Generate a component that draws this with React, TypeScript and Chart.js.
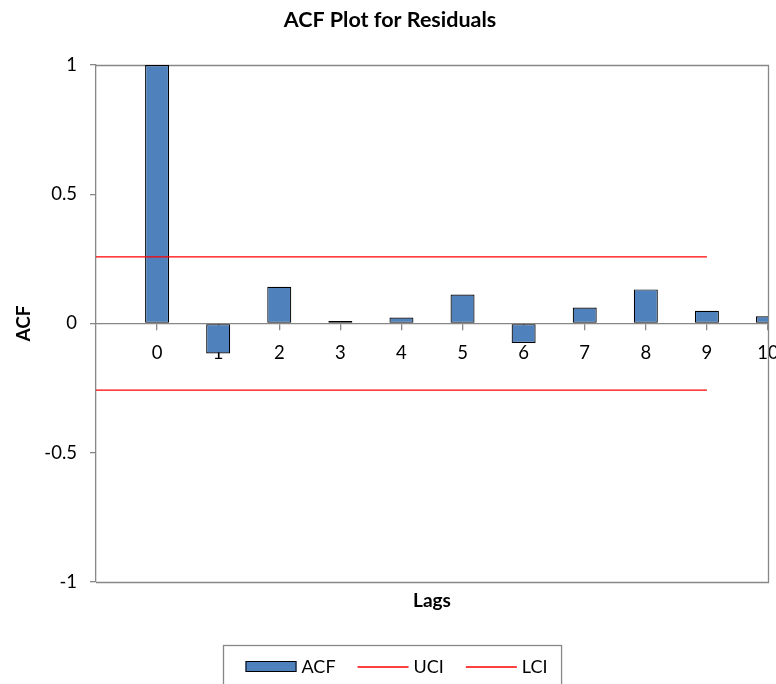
import React, { useEffect, useRef } from "react";
import { Chart, registerables } from "chart.js";

Chart.register(...registerables);

// ---- data ----
const LAGS = [0, 1, 2, 3, 4, 5, 6, 7, 8, 9, 10];
const ACF = [1, -0.116, 0.142, 0.01, 0.023, 0.112, -0.075, 0.062, 0.132, 0.049, 0.028];
const UCI = [0.258, 0.258, 0.258, 0.258, 0.258, 0.258, 0.258, 0.258, 0.258, 0.258, 0.258];
const LCI = [-0.258, -0.258, -0.258, -0.258, -0.258, -0.258, -0.258, -0.258, -0.258, -0.258, -0.258];
const Y_TICKS = [-1, -0.5, 0, 0.5, 1];
const TITLE = "ACF Plot for Residuals";
const X_TITLE = "Lags";
const Y_TITLE = "ACF";
const SERIES_NAMES = ["ACF", "UCI", "LCI"];

const AXIS_GRAY = "#878787";
const FONT = "Lato";

const frameBorder = {
  id: "frameBorder",
  beforeDatasetsDraw(chart: any) {
    const { ctx, chartArea } = chart;
    ctx.save();
    ctx.strokeStyle = AXIS_GRAY;
    ctx.lineWidth = 1.3;
    ctx.beginPath();
    ctx.moveTo(chartArea.left, chartArea.top + 0.5);
    ctx.lineTo(chartArea.right + 0.5, chartArea.top + 0.5);
    ctx.lineTo(chartArea.right + 0.5, chartArea.bottom + 0.5);
    ctx.lineTo(chartArea.left, chartArea.bottom + 0.5);
    ctx.stroke();
    ctx.restore();
  },
};

const boxedLegend = {
  id: "boxedLegend",
  afterDraw(chart: any) {
    const { ctx, chartArea } = chart;
    const datasets = chart.data.datasets;
    ctx.save();
    ctx.font = `18px ${FONT}`;
    const sw = 51;
    const gapText = 5;
    const gapItem = 22;
    const padL = 22;
    const padR = 14;
    const widths = datasets.map((d: any) => ctx.measureText(d.label).width);
    let total = padL + padR + gapItem * (datasets.length - 1);
    widths.forEach((w: number) => (total += sw + gapText + w));
    const left = Math.round(chart.width / 2 + 4 - total / 2) + 0.5;
    const top = Math.round(chartArea.bottom + 63) + 0.5;
    const h = 42;
    ctx.strokeStyle = AXIS_GRAY;
    ctx.lineWidth = 1.3;
    ctx.strokeRect(left, top, total, h);
    const cy = top + 21.5;
    let x = left + padL;
    datasets.forEach((d: any, i: number) => {
      if (d.type === "bar") {
        ctx.fillStyle = d.backgroundColor;
        ctx.fillRect(x, cy - 6, sw, 11);
        ctx.strokeStyle = d.borderColor;
        ctx.lineWidth = 1;
        ctx.strokeRect(x + 0.5, cy - 5.5, sw - 1, 10);
      } else {
        ctx.strokeStyle = d.borderColor;
        ctx.lineWidth = d.borderWidth;
        ctx.beginPath();
        ctx.moveTo(x, cy);
        ctx.lineTo(x + sw, cy);
        ctx.stroke();
      }
      x += sw + gapText;
      ctx.fillStyle = "#000";
      ctx.textBaseline = "middle";
      ctx.textAlign = "left";
      ctx.fillText(d.label, x, cy);
      x += widths[i] + gapItem;
    });
    ctx.restore();
  },
};

export default function App() {
  const ref = useRef<HTMLCanvasElement | null>(null);

  useEffect(() => {
    if (!ref.current) return;
    const chart = new Chart(ref.current, {
      type: "bar",
      data: {
        datasets: [
          {
            type: "bar",
            label: SERIES_NAMES[0],
            data: LAGS.map((l, i) => ({ x: l, y: ACF[i] })),
            backgroundColor: "#4F81BD",
            borderColor: "#000000",
            borderWidth: 1.2,
            borderSkipped: false,
            barPercentage: 0.393,
            categoryPercentage: 1,
            xAxisID: "x",
            yAxisID: "y",
            order: 2,
          } as any,
          {
            type: "line",
            label: SERIES_NAMES[1],
            data: LAGS.map((l, i) => ({ x: l - 1, y: UCI[i] })),
            borderColor: "#FF0000",
            backgroundColor: "#FF0000",
            borderWidth: 1.3,
            pointRadius: 0,
            fill: false,
            xAxisID: "x",
            yAxisID: "y",
            order: 1,
          } as any,
          {
            type: "line",
            label: SERIES_NAMES[2],
            data: LAGS.map((l, i) => ({ x: l - 1, y: LCI[i] })),
            borderColor: "#FF0000",
            backgroundColor: "#FF0000",
            borderWidth: 1.3,
            pointRadius: 0,
            fill: false,
            xAxisID: "x",
            yAxisID: "y",
            order: 1,
          } as any,
        ],
      },
      options: {
        responsive: false,
        animation: false,
        layout: { padding: { left: 12, right: 8, top: 0, bottom: 0 } },
        plugins: {
          legend: { display: false },
          tooltip: { enabled: false },
          title: {
            display: true,
            text: TITLE,
            color: "#000",
            font: { family: FONT, size: 21.5, weight: "bold" },
            padding: { top: 7, bottom: 32.2 },
          },
        },
        scales: {
          x: {
            type: "linear",
            position: { y: 0 } as any,
            min: -1,
            max: 10,
            offset: false,
            z: 1,
            afterBuildTicks: (s: any) => {
              s.ticks = LAGS.map((v) => ({ value: v }));
            },
            afterFit: (s: any) => {
              s.paddingLeft = 0;
              s.paddingRight = 0;
            },
            ticks: {
              color: "#000",
              font: { family: FONT, size: 18.5 },
              padding: 12,
              autoSkip: false,
              maxRotation: 0,
              callback: (v: any) => String(v),
            },
            grid: {
              display: true,
              drawOnChartArea: false,
              drawTicks: true,
              tickLength: 6,
              color: AXIS_GRAY,
              lineWidth: 1.3,
              offset: false,
            },
            border: { display: true, color: AXIS_GRAY, width: 1.3 },
          },
          xb: {
            type: "linear",
            position: "bottom",
            min: -1,
            max: 10,
            offset: false,
            ticks: { display: false },
            grid: { display: false, drawTicks: false },
            border: { display: false },
            afterFit: (s: any) => {
              s.paddingLeft = 0;
              s.paddingRight = 0;
            },
            title: {
              display: true,
              text: X_TITLE,
              color: "#000",
              font: { family: FONT, size: 19, weight: "bold" },
              padding: { top: 7.2, bottom: 72 },
            },
          },
          y: {
            type: "linear",
            position: "left",
            min: -1,
            max: 1,
            afterBuildTicks: (s: any) => {
              s.ticks = Y_TICKS.map((v) => ({ value: v }));
            },
            afterFit: (s: any) => {
              s.width = 84;
            },
            ticks: {
              color: "#000",
              font: { family: FONT, size: 18.5 },
              padding: 13,
              callback: (v: any) => String(v),
            },
            grid: {
              display: true,
              drawOnChartArea: false,
              drawTicks: true,
              tickLength: 6,
              color: AXIS_GRAY,
              lineWidth: 1.3,
            },
            border: { display: true, color: AXIS_GRAY, width: 1.3 },
            title: {
              display: true,
              text: Y_TITLE,
              color: "#000",
              font: { family: FONT, size: 19, weight: "bold" },
              padding: { top: 0, bottom: 0 },
            },
          },
        },
      } as any,
      plugins: [frameBorder, boxedLegend],
    });
    return () => chart.destroy();
  }, []);

  return (
    <div style={{ position: "absolute", left: 0, top: 0, width: 776, height: 684, background: "#fff" }}>
      <canvas ref={ref} width={776} height={684} style={{ display: "block" }} />
    </div>
  );
}
